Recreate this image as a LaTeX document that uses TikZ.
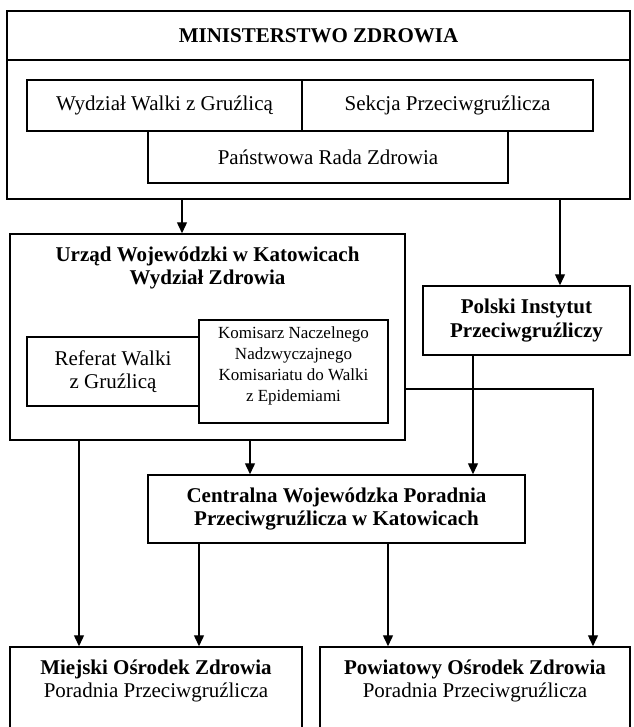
\documentclass[tikz,border=0pt]{standalone}
\usepackage{fontspec}
\setmainfont{Liberation Serif}
\usetikzlibrary{arrows.meta}
\begin{document}
\begin{tikzpicture}[x=1pt,y=-1pt,
  box/.style={draw, line width=1.5pt, inner sep=0pt, align=center},
  txt/.style={inner sep=0pt, align=center, font=\fontsize{21}{23.5}\selectfont},
  btxt/.style={inner sep=0pt, align=center, font=\fontsize{21}{23.5}\selectfont\bfseries},
  stxt/.style={inner sep=0pt, align=center, font=\fontsize{17}{21}\selectfont},
  conn/.style={line width=1.4pt},
  arr/.style={conn, -{Triangle[length=11pt,width=10pt]}}]
\useasboundingbox (0,0) rectangle (633,727);
% Ministerstwo
\node[box, minimum width=623, minimum height=188] (Min) at (318.5,105) {};
\node[btxt] (MinT) at (318.5,36) {MINISTERSTWO ZDROWIA};
\coordinate (sepy) at (0,60);
\draw[box] (Min.west |- sepy) -- (Min.east |- sepy);
\node[box, txt, minimum width=275, minimum height=51] (Wyd) at (164.5,105.5) {Wydział Walki z Gruźlicą};
\node[box, txt, minimum width=291, minimum height=51] (Sek) at (447.5,105.5) {Sekcja Przeciwgruźlicza};
\node[box, txt, minimum width=360, minimum height=52] (Pan) at (328,157) {Państwowa Rada Zdrowia};
% Urzad
\node[box, minimum width=395, minimum height=206] (Urz) at (207.5,337) {};
\node[btxt] (UrzT) at (207.5,268) {Urząd Wojewódzki w Katowicach\\Wydział Zdrowia};
\node[box, txt, minimum width=172, minimum height=69] (Ref) at (113,371.5) {Referat Walki\\z Gruźlicą};
\node[box, fill=white, minimum width=189, minimum height=103] (Kom) at (293.5,371.5) {};
\node[stxt] (KomT) at (293.5,366) {Komisarz Naczelnego\\Nadzwyczajnego\\Komisariatu do Walki\\z Epidemiami};
% Polski
\node[box, btxt, minimum width=207, minimum height=69] (Pol) at (526.5,320.5) {Polski Instytut\\Przeciwgruźliczy};
% Centralna
\node[box, btxt, minimum width=377, minimum height=68] (Cen) at (336.5,509) {Centralna Wojewódzka Poradnia\\Przeciwgruźlicza w Katowicach};
% bottom
\node[box, minimum width=292, minimum height=120] (Mie) at (156,707) {};
\node[txt] (MieT) at (156,681) {\textbf{Miejski Ośrodek Zdrowia}\\Poradnia Przeciwgruźlicza};
\node[box, minimum width=310, minimum height=120] (Pow) at (475,707) {};
\node[txt] (PowT) at (475,681) {\textbf{Powiatowy Ośrodek Zdrowia}\\Poradnia Przeciwgruźlicza};
% connector x positions
\coordinate (xA) at (182,0);
\coordinate (xB) at (560,0);
\coordinate (xC) at (593,389);
\coordinate (xD) at (250,0);
\coordinate (xE) at (473,0);
\coordinate (xF) at (79,0);
\coordinate (xG) at (199,0);
\coordinate (xH) at (388,0);
\draw[arr] (xA |- Min.south) -- (xA |- Urz.north);
\draw[arr] (xB |- Min.south) -- (xB |- Pol.north);
\draw[arr] (Urz.east |- xC) -- (xC) -- (xC |- Pow.north);
\draw[arr] (xD |- Urz.south) -- (xD |- Cen.north);
\draw[arr] (xE |- Pol.south) -- (xE |- Cen.north);
\draw[arr] (xF |- Urz.south) -- (xF |- Mie.north);
\draw[arr] (xG |- Cen.south) -- (xG |- Mie.north);
\draw[arr] (xH |- Cen.south) -- (xH |- Pow.north);
\end{tikzpicture}
\end{document}
